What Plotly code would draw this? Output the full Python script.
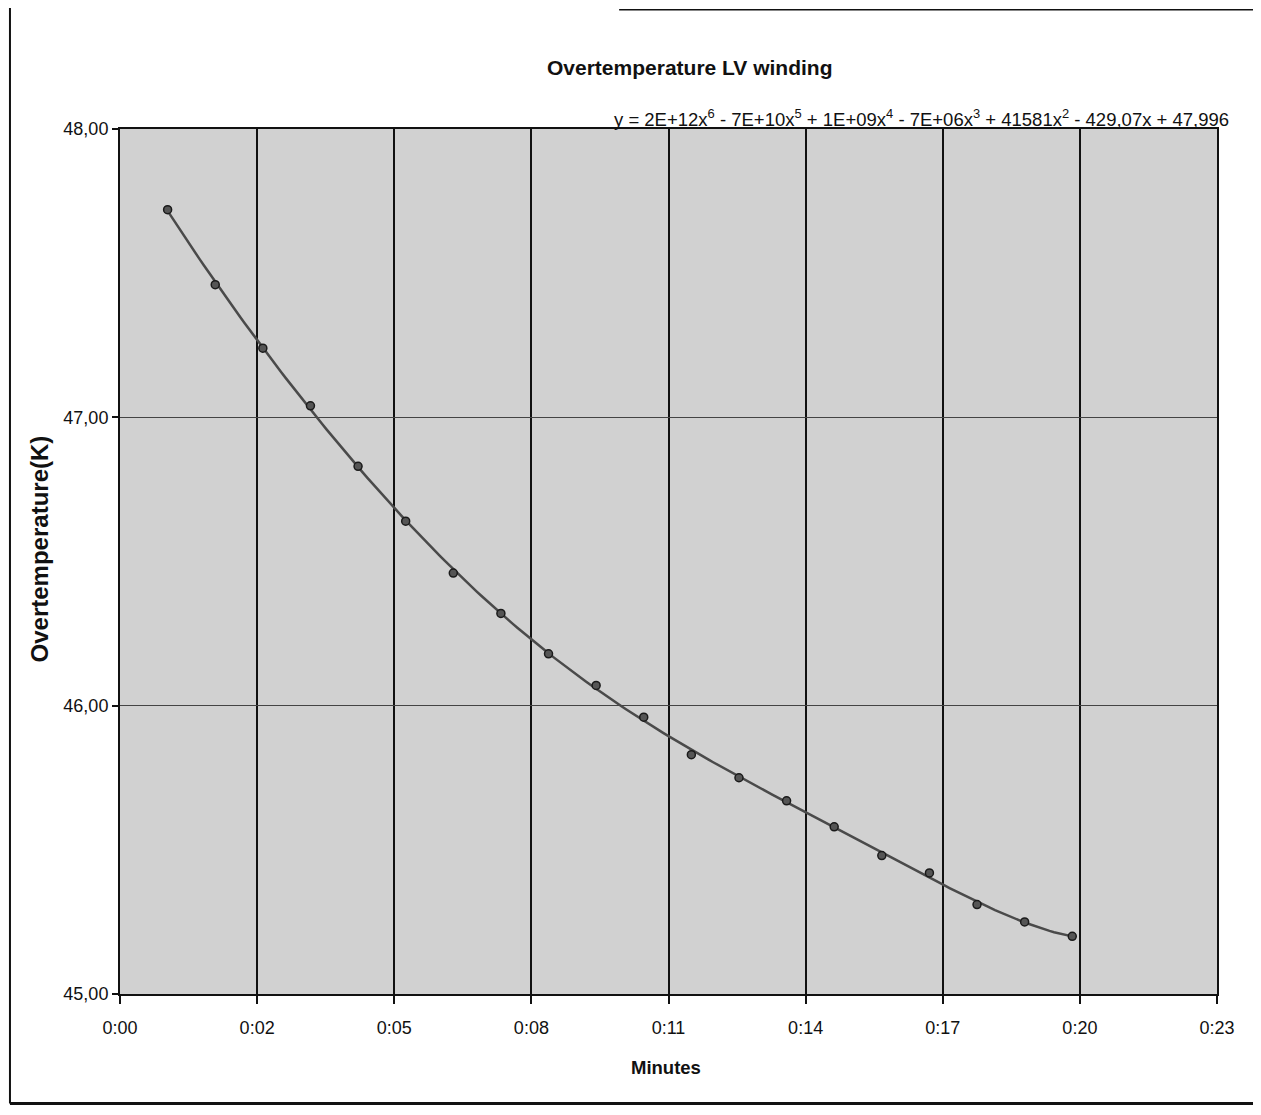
import numpy as np
import plotly.graph_objects as go

# ---- data ----
minutes = [1, 2, 3, 4, 5, 6, 7, 8, 9, 10, 11, 12, 13, 14, 15, 16, 17, 18, 19, 20]
overtemp = [47.72, 47.46, 47.24, 47.04, 46.83, 46.64, 46.46, 46.32, 46.18, 46.07,
            45.96, 45.83, 45.75, 45.67, 45.58, 45.48, 45.42, 45.31, 45.25, 45.20]
# Excel time axis: major unit 0.002 day = 2.88 min
tick_minutes = [i * 0.002 * 1440 for i in range(9)]
tick_labels = ["0:00", "0:02", "0:05", "0:08", "0:11", "0:14", "0:17", "0:20", "0:23"]
y_ticks = [45, 46, 47, 48]
y_tick_labels = ["45,00", "46,00", "47,00", "48,00"]
equation = ("y = 2E+12x<sup>6</sup> - 7E+10x<sup>5</sup> + 1E+09x<sup>4</sup> - 7E+06x<sup>3</sup>"
            " + 41581x<sup>2</sup> - 429,07x + 47,996")

# 6th order polynomial trendline (as in Excel)
coef = np.polyfit(minutes, overtemp, 6)
xs = np.linspace(minutes[0], minutes[-1], 200)
ys = np.polyval(coef, xs)

FONT = "Liberation Sans, Arial, sans-serif"

fig = go.Figure()
fig.add_trace(go.Scatter(x=xs, y=ys, mode="lines",
                         line=dict(color="#4a4a4a", width=2.5),
                         showlegend=False, hoverinfo="skip"))
fig.add_trace(go.Scatter(x=minutes, y=overtemp, mode="markers",
                         marker=dict(size=8, color="#555555",
                                     line=dict(color="#1a1a1a", width=1.5)),
                         showlegend=False))

fig.update_layout(
    width=1261, height=1115,
    margin=dict(l=112, r=52, t=121, b=129),
    paper_bgcolor="white",
    plot_bgcolor="#d1d1d1",
    font=dict(family=FONT, color="#111111", size=18),
    showlegend=False,
    xaxis=dict(range=[0, tick_minutes[-1]], tickmode="array",
               tickvals=tick_minutes, ticktext=tick_labels,
               showgrid=True, gridcolor="#111111", gridwidth=2,
               showline=True, linecolor="#111111", linewidth=2, mirror=True,
               ticks="outside", ticklen=8, tickcolor="#111111", tickwidth=1.5,
               ticklabelstandoff=8,
               tickfont=dict(size=18), zeroline=False),
    yaxis=dict(range=[45, 48], tickmode="array",
               tickvals=y_ticks, ticktext=y_tick_labels,
               showgrid=True, gridcolor="#444444", gridwidth=1,
               showline=True, linecolor="#111111", linewidth=2, mirror=True,
               ticks="outside", ticklen=6, tickcolor="#111111", tickwidth=1.5,
               tickfont=dict(size=18), zeroline=False),
    annotations=[
        dict(text="<b>Overtemperature LV winding</b>", xref="paper", yref="paper",
             x=0.52, y=1.071, showarrow=False, font=dict(size=21),
             xanchor="center", yanchor="middle"),
        dict(text="<b>Minutes</b>", xref="paper", yref="paper",
             x=0.4975, y=-0.0855, showarrow=False, font=dict(size=18.5),
             xanchor="center", yanchor="middle"),
        dict(text="<b>Overtemperature(K)</b>", xref="paper", yref="paper",
             x=-0.073, y=0.515, showarrow=False, textangle=-90, font=dict(size=24),
             xanchor="center", yanchor="middle"),
        dict(text=equation, xref="paper", yref="paper",
             x=0.731, y=1.0125, showarrow=False, font=dict(size=18.5),
             xanchor="center", yanchor="middle"),
    ],
    shapes=[
        # chart area frame
        dict(type="line", xref="paper", yref="paper",
             x0=-0.1003, x1=-0.1003, y0=1.14, y1=-0.1265,
             line=dict(color="#111111", width=2)),
        dict(type="line", xref="paper", yref="paper",
             x0=-0.1003, x1=1.036, y0=-0.1265, y1=-0.1265,
             line=dict(color="#111111", width=3)),
        dict(type="line", xref="paper", yref="paper",
             x0=0.455, x1=1.04, y0=1.138, y1=1.138,
             line=dict(color="#111111", width=1.5)),
    ],
)

fig.write_html("out.html")
